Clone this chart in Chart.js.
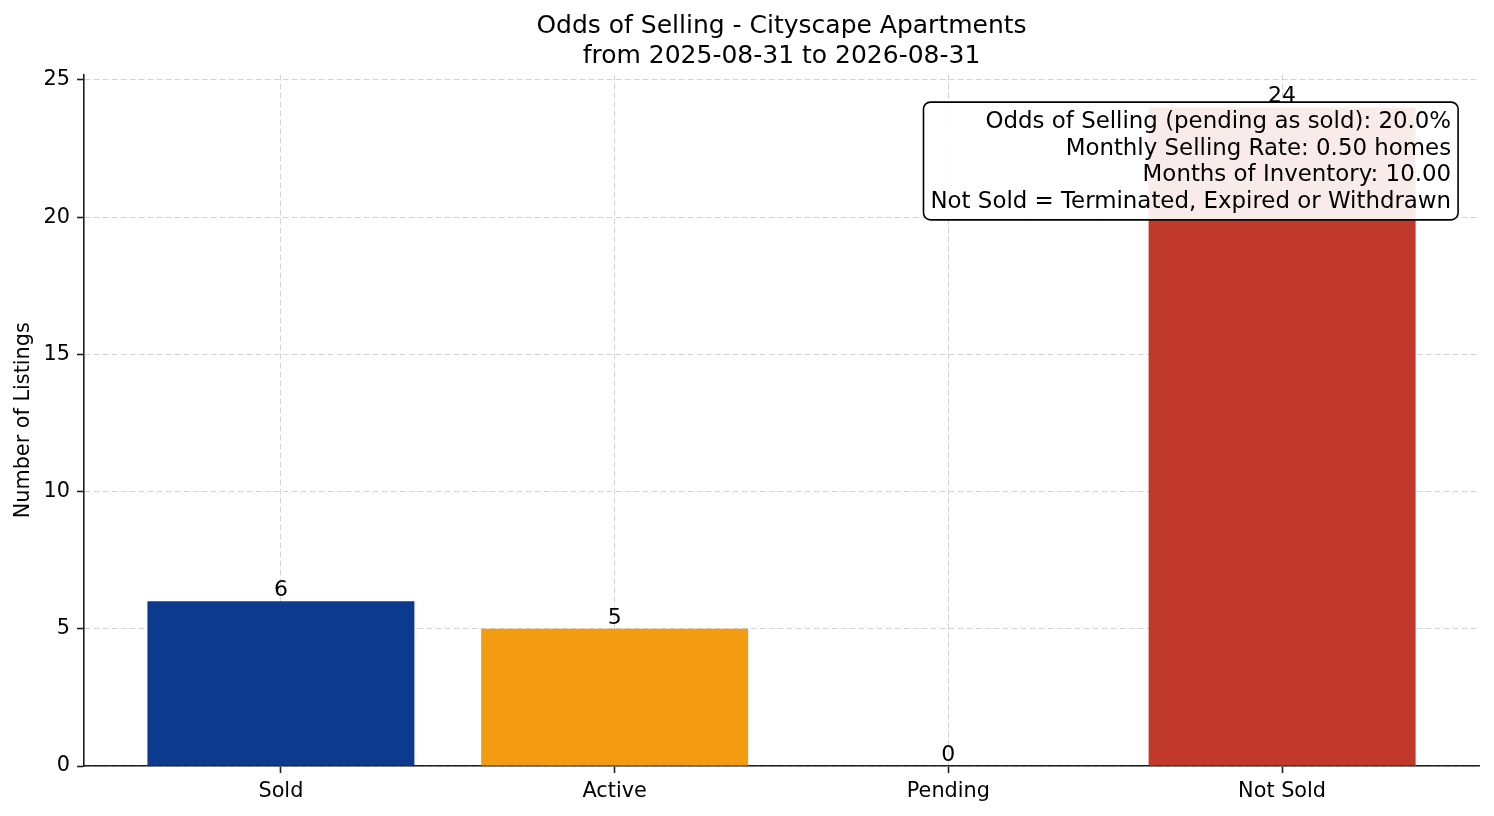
<!DOCTYPE html>
<html>
<head>
<meta charset="utf-8">
<script src="https://cdn.jsdelivr.net/npm/chart.js@4"></script>
<style>
  html, body { margin: 0; padding: 0; background: #fff; }
  #wrap { width: 1494px; height: 816px; }
</style>
</head>
<body>
<div id="wrap"><canvas id="oddsChart"></canvas></div>
<script>
// data
const categories = ["Sold", "Active", "Pending", "Not Sold"];
const listings = [6, 5, 0, 24];
const yTicks = [0, 5, 10, 15, 20, 25];
const titleLines = ["Odds of Selling - Cityscape Apartments", "from 2025-08-31 to 2026-08-31"];
const statLines = [
  "Odds of Selling (pending as sold): 20.0%",
  "Monthly Selling Rate: 0.50 homes",
  "Months of Inventory: 10.00",
  "Not Sold = Terminated, Expired or Withdrawn"
];

const barColors = ["#0b3a8e", "#f39c12", "#f39c12", "#c0392b"];
const FONT = "'DejaVu Sans', 'Liberation Sans', sans-serif";
const axisColor = "#1e1e1e";
const gridColor = "rgba(176,176,176,0.55)";

// titles, value labels and the stats box
const overlay = {
  id: "overlay",
  afterDraw(chart) {
    const ctx = chart.ctx;
    const ca = chart.chartArea;
    const cx = (ca.left + ca.right) / 2;
    ctx.save();
    ctx.fillStyle = "#000";

    // title
    ctx.font = "25px " + FONT;
    ctx.textAlign = "center";
    ctx.textBaseline = "alphabetic";
    titleLines.forEach((t, i) => ctx.fillText(t, cx, 33 + i * 29.5));

    // y axis label
    ctx.save();
    ctx.translate(24, (ca.top + ca.bottom) / 2);
    ctx.rotate(-Math.PI / 2);
    ctx.font = "20.8px " + FONT;
    ctx.textBaseline = "middle";
    ctx.fillText("Number of Listings", 0, 0);
    ctx.restore();

    // value labels on bars
    ctx.font = "22px " + FONT;
    ctx.textAlign = "center";
    ctx.textBaseline = "alphabetic";
    chart.getDatasetMeta(0).data.forEach((bar, i) => {
      ctx.fillText(String(listings[i]), bar.x, bar.y - 5);
    });

    // stats box
    const fs = 22.9, lineH = 26.8, pad = 7;
    ctx.font = fs + "px " + FONT;
    const w = ca.right - ca.left, h = ca.bottom - ca.top;
    const textRight = ca.right - 0.02 * w;
    const textTop = ca.top + 0.05 * h;
    const maxW = Math.max(...statLines.map(s => ctx.measureText(s).width));
    const firstBase = textTop + 0.82 * fs;
    const lastBase = firstBase + (statLines.length - 1) * lineH;
    const bx = textRight - maxW - pad, by = textTop - pad;
    const bw = maxW + 2 * pad, bh = lastBase + 0.2 * fs + pad - by;
    ctx.beginPath();
    ctx.roundRect(bx, by, bw, bh, 7);
    ctx.fillStyle = "rgba(255,255,255,0.9)";
    ctx.fill();
    ctx.lineWidth = 1.6;
    ctx.strokeStyle = "#000";
    ctx.stroke();
    ctx.fillStyle = "#000";
    ctx.textAlign = "right";
    statLines.forEach((s, i) => ctx.fillText(s, textRight, firstBase + i * lineH));
    ctx.restore();
  }
};

new Chart(document.getElementById("oddsChart"), {
  type: "bar",
  data: {
    datasets: [{
      data: categories.map((c, i) => ({ x: i, y: listings[i] })),
      backgroundColor: barColors,
      borderWidth: 0,
      barPercentage: 0.8,
      categoryPercentage: 1.0
    }]
  },
  options: {
    responsive: true,
    maintainAspectRatio: false,
    animation: false,
    layout: { padding: { top: 74.5, right: 15, left: 0, bottom: 0 } },
    plugins: { legend: { display: false }, tooltip: { enabled: false }, title: { display: false } },
    scales: {
      x: {
        type: "linear",
        min: -0.59,
        max: 3.59,
        offset: false,
        z: 1,
        afterBuildTicks: s => { s.ticks = categories.map((c, i) => ({ value: i })); },
        afterFit: s => { s.height = 50; },
        ticks: {
          callback: v => categories[v],
          autoSkip: false,
          maxRotation: 0,
          color: "#000",
          padding: 6,
          font: { family: FONT, size: 20.8 }
        },
        grid: { offset: false, color: gridColor, lineWidth: 1, tickLength: 7, tickColor: axisColor, tickWidth: 1.6, tickBorderDash: [] },
        border: { display: true, color: axisColor, width: 1.6, dash: [6, 3] }
      },
      y: {
        min: 0,
        max: 25.2,
        z: 1,
        afterBuildTicks: s => { s.ticks = yTicks.map(v => ({ value: v })); },
        afterFit: s => { s.width = 84; },
        ticks: {
          color: "#000",
          padding: 7,
          font: { family: FONT, size: 20.8 }
        },
        grid: { color: gridColor, lineWidth: 1, tickLength: 7, tickColor: axisColor, tickWidth: 1.6, tickBorderDash: [] },
        border: { display: true, color: axisColor, width: 1.6, dash: [6, 3] }
      }
    }
  },
  plugins: [overlay]
});
</script>
</body>
</html>
